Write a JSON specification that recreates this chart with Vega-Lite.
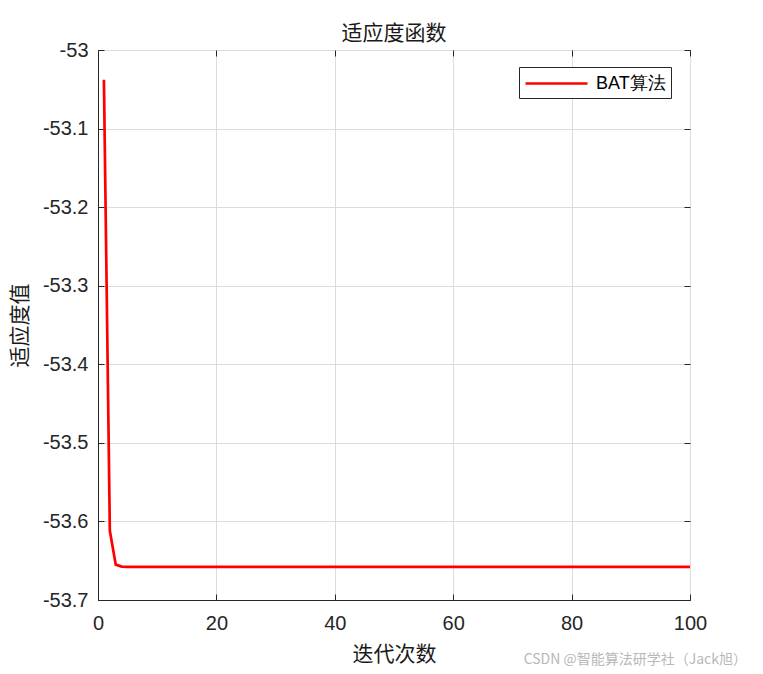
{
  "$schema": "https://vega.github.io/schema/vega-lite/v6.json",
  "autosize": {"type": "none"},
  "padding": {"left": 98, "top": 50, "right": 73, "bottom": 74},
  "width": 592,
  "height": 550,
  "background": "white",
  "title": {"text": "适应度函数", "font": "Noto Sans CJK SC", "fontSize": 21, "fontWeight": "normal", "color": "#1a1a1a", "offset": -4},
  "config": {
    "view": {"stroke": "#262626", "strokeWidth": 1},
    "axis": {
      "labelFont": "Liberation Sans", "labelFontSize": 20, "labelColor": "#262626", "labelFlush": false,
      "titleFont": "Noto Sans CJK SC", "titleFontSize": 21, "titleFontWeight": "normal", "titleColor": "#1a1a1a",
      "domainColor": "#262626", "tickColor": "#262626", "tickSize": -6,
      "gridColor": "#dcdcdc", "gridWidth": 1
    }
  },
  "datasets": {
    "curve": [
      {"iter": 1, "fit": -53.038}, {"iter": 2, "fit": -53.612}, {"iter": 3, "fit": -53.655}, {"iter": 4, "fit": -53.6575},
      {"iter": 5, "fit": -53.6578}, {"iter": 6, "fit": -53.6578}, {"iter": 7, "fit": -53.6578}, {"iter": 8, "fit": -53.6578},
      {"iter": 9, "fit": -53.6578}, {"iter": 10, "fit": -53.6578}, {"iter": 11, "fit": -53.6578}, {"iter": 12, "fit": -53.6578},
      {"iter": 13, "fit": -53.6578}, {"iter": 14, "fit": -53.6578}, {"iter": 15, "fit": -53.6578}, {"iter": 16, "fit": -53.6578},
      {"iter": 17, "fit": -53.6578}, {"iter": 18, "fit": -53.6578}, {"iter": 19, "fit": -53.6578}, {"iter": 20, "fit": -53.6578},
      {"iter": 21, "fit": -53.6578}, {"iter": 22, "fit": -53.6578}, {"iter": 23, "fit": -53.6578}, {"iter": 24, "fit": -53.6578},
      {"iter": 25, "fit": -53.6578}, {"iter": 26, "fit": -53.6578}, {"iter": 27, "fit": -53.6578}, {"iter": 28, "fit": -53.6578},
      {"iter": 29, "fit": -53.6578}, {"iter": 30, "fit": -53.6578}, {"iter": 31, "fit": -53.6578}, {"iter": 32, "fit": -53.6578},
      {"iter": 33, "fit": -53.6578}, {"iter": 34, "fit": -53.6578}, {"iter": 35, "fit": -53.6578}, {"iter": 36, "fit": -53.6578},
      {"iter": 37, "fit": -53.6578}, {"iter": 38, "fit": -53.6578}, {"iter": 39, "fit": -53.6578}, {"iter": 40, "fit": -53.6578},
      {"iter": 41, "fit": -53.6578}, {"iter": 42, "fit": -53.6578}, {"iter": 43, "fit": -53.6578}, {"iter": 44, "fit": -53.6578},
      {"iter": 45, "fit": -53.6578}, {"iter": 46, "fit": -53.6578}, {"iter": 47, "fit": -53.6578}, {"iter": 48, "fit": -53.6578},
      {"iter": 49, "fit": -53.6578}, {"iter": 50, "fit": -53.6578}, {"iter": 51, "fit": -53.6578}, {"iter": 52, "fit": -53.6578},
      {"iter": 53, "fit": -53.6578}, {"iter": 54, "fit": -53.6578}, {"iter": 55, "fit": -53.6578}, {"iter": 56, "fit": -53.6578},
      {"iter": 57, "fit": -53.6578}, {"iter": 58, "fit": -53.6578}, {"iter": 59, "fit": -53.6578}, {"iter": 60, "fit": -53.6578},
      {"iter": 61, "fit": -53.6578}, {"iter": 62, "fit": -53.6578}, {"iter": 63, "fit": -53.6578}, {"iter": 64, "fit": -53.6578},
      {"iter": 65, "fit": -53.6578}, {"iter": 66, "fit": -53.6578}, {"iter": 67, "fit": -53.6578}, {"iter": 68, "fit": -53.6578},
      {"iter": 69, "fit": -53.6578}, {"iter": 70, "fit": -53.6578}, {"iter": 71, "fit": -53.6578}, {"iter": 72, "fit": -53.6578},
      {"iter": 73, "fit": -53.6578}, {"iter": 74, "fit": -53.6578}, {"iter": 75, "fit": -53.6578}, {"iter": 76, "fit": -53.6578},
      {"iter": 77, "fit": -53.6578}, {"iter": 78, "fit": -53.6578}, {"iter": 79, "fit": -53.6578}, {"iter": 80, "fit": -53.6578},
      {"iter": 81, "fit": -53.6578}, {"iter": 82, "fit": -53.6578}, {"iter": 83, "fit": -53.6578}, {"iter": 84, "fit": -53.6578},
      {"iter": 85, "fit": -53.6578}, {"iter": 86, "fit": -53.6578}, {"iter": 87, "fit": -53.6578}, {"iter": 88, "fit": -53.6578},
      {"iter": 89, "fit": -53.6578}, {"iter": 90, "fit": -53.6578}, {"iter": 91, "fit": -53.6578}, {"iter": 92, "fit": -53.6578},
      {"iter": 93, "fit": -53.6578}, {"iter": 94, "fit": -53.6578}, {"iter": 95, "fit": -53.6578}, {"iter": 96, "fit": -53.6578},
      {"iter": 97, "fit": -53.6578}, {"iter": 98, "fit": -53.6578}, {"iter": 99, "fit": -53.6578}, {"iter": 100, "fit": -53.6578}
    ],
    "note": [{"text": "CSDN @智能算法研学社（Jack旭）"}]
  },
  "resolve": {"axis": {"x": "independent", "y": "independent"}},
  "layer": [
    {
      "data": {"name": "curve"},
      "mark": {"type": "line", "color": "#ff0000", "strokeWidth": 2.7, "clip": true},
      "encoding": {
        "x": {"field": "iter", "type": "quantitative",
              "scale": {"domain": [0, 100], "nice": false, "zero": false},
              "axis": {"values": [0, 20, 40, 60, 80, 100], "title": "迭代次数", "labelPadding": 19, "titlePadding": 10, "grid": true}},
        "y": {"field": "fit", "type": "quantitative",
              "scale": {"domain": [-53.7, -53], "nice": false, "zero": false},
              "axis": {"values": [-53.7, -53.6, -53.5, -53.4, -53.3, -53.2, -53.1, -53], "labelExpr": "'' + datum.value", "title": "适应度值", "labelPadding": 16, "titlePadding": 12, "grid": true}},
        "stroke": {"datum": "BAT算法", "type": "nominal",
                   "scale": {"range": ["#ff0000"]},
                   "legend": {"title": null, "orient": "none", "legendX": 421, "legendY": 17,
                              "symbolType": "M-1,0H5.2", "symbolSize": 400, "symbolStrokeWidth": 2.7,
                              "labelFont": "Liberation Sans", "labelFontSize": 18, "labelColor": "#000000",
                              "strokeColor": "#262626", "fillColor": "white", "padding": 5, "labelOffset": 49}}
      }
    },
    {
      "data": {"name": "note"},
      "mark": {"type": "text", "align": "right", "baseline": "middle", "dx": 57, "dy": 60, "font": "Noto Sans CJK SC", "fontSize": 14, "color": "#b8b8b8"},
      "encoding": {
        "x": {"datum": 100, "type": "quantitative",
              "axis": {"orient": "top", "values": [0, 20, 40, 60, 80, 100], "labels": false, "title": null, "grid": false, "domain": false}},
        "y": {"datum": -53.7, "type": "quantitative",
              "axis": {"orient": "right", "values": [-53.7, -53.6, -53.5, -53.4, -53.3, -53.2, -53.1, -53], "labels": false, "title": null, "grid": false, "domain": false}},
        "text": {"field": "text"}
      }
    }
  ]
}
